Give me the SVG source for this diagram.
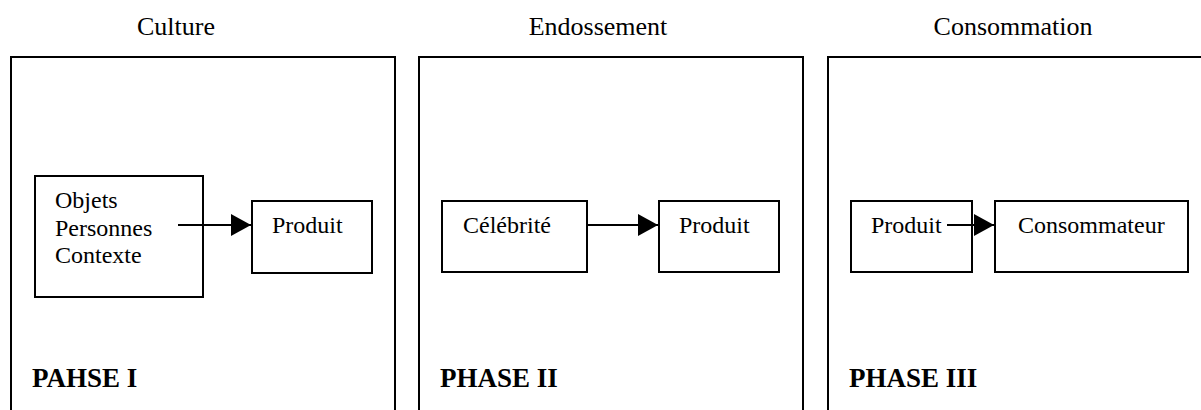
<svg xmlns="http://www.w3.org/2000/svg" width="1201" height="410" viewBox="0 0 1201 410">
<style>
.t{font-family:"Liberation Serif","Times New Roman",serif;font-size:24px;fill:#000}
.h{font-family:"Liberation Serif","Times New Roman",serif;font-size:26px;fill:#000}
.b{font-family:"Liberation Serif","Times New Roman",serif;font-size:27px;font-weight:bold;fill:#000}
.o{fill:none;stroke:#000;stroke-width:2}
.n{fill:#fff;stroke:#000;stroke-width:2}
.c{stroke:#000;stroke-width:2;fill:none}
</style>
<defs>
<marker id="ah" markerUnits="userSpaceOnUse" markerWidth="20" markerHeight="22" refX="20" refY="11" orient="auto">
<path d="M0,0 L20,11 L0,22 Z" fill="#000"/>
</marker>
</defs>
<rect width="1201" height="410" fill="#fff"/>
<g id="phase1">
<text class="h" x="176" y="35" text-anchor="middle">Culture</text>
<rect class="o" x="11" y="57" width="384" height="380"/>
<text class="b" x="32" y="387">PAHSE I</text>
</g>
<g id="phase2">
<text class="h" x="598" y="35" text-anchor="middle">Endossement</text>
<rect class="o" x="419" y="57" width="384" height="380"/>
<text class="b" x="440" y="387">PHASE II</text>
</g>
<g id="phase3">
<text class="h" x="1013" y="35" text-anchor="middle">Consommation</text>
<rect class="o" x="828" y="57" width="384" height="380"/>
<text class="b" x="849" y="387">PHASE III</text>
</g>
<g id="objets">
<rect class="n" x="35" y="176" width="168" height="121"/>
<text class="t" x="55" y="208">Objets</text>
<text class="t" x="55" y="236">Personnes</text>
<text class="t" x="55" y="263">Contexte</text>
</g>
<g id="produit1">
<rect class="n" x="252" y="201" width="120" height="72"/>
<text class="t" x="272" y="233">Produit</text>
</g>
<g id="celebrite">
<rect class="n" x="442" y="201" width="145" height="71"/>
<text class="t" x="463" y="233">Célébrité</text>
</g>
<g id="produit2">
<rect class="n" x="659" y="201" width="120" height="71"/>
<text class="t" x="679" y="233">Produit</text>
</g>
<g id="produit3">
<rect class="n" x="851" y="201" width="121" height="71"/>
<text class="t" x="871" y="233">Produit</text>
</g>
<g id="consommateur">
<rect class="n" x="995" y="201" width="193" height="71"/>
<text class="t" x="1018" y="233">Consommateur</text>
</g>
<g id="connectors">
<line class="c" x1="178" y1="225" x2="251" y2="225" marker-end="url(#ah)"/>
<line class="c" x1="587" y1="225" x2="658" y2="225" marker-end="url(#ah)"/>
<line class="c" x1="947" y1="225" x2="994" y2="225" marker-end="url(#ah)"/>
</g>
</svg>
